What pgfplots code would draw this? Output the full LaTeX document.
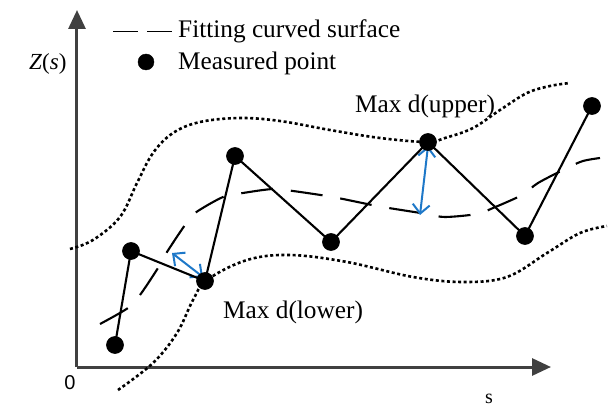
\documentclass[border=0pt]{standalone}
\usepackage{fontspec}
\setmainfont{Liberation Serif}
\newfontfamily\sansf{Liberation Sans}
\usepackage{pgfplots}
\pgfplotsset{compat=1.18}
\usetikzlibrary{arrows.meta}
\definecolor{axgray}{RGB}{64,64,64}
\definecolor{arrblue}{RGB}{30,120,200}
\begin{document}
\begin{tikzpicture}
\begin{axis}[
  scale only axis, width=474pt, height=357pt,
  xmin=0, xmax=474, ymin=0, ymax=357,
  axis lines*=left,
  axis line style={line width=3pt, draw=axgray, -{Triangle[length=19pt,width=17pt]}},
  xtick=\empty, ytick=\empty,
  clip=false,
]
\coordinate (BL) at (axis cs:-77,-43);
\coordinate (TR) at (axis cs:536,367);
% upper bound (dotted)
\addplot[black, line width=2.6pt, dash pattern=on 3pt off 2.6pt, smooth, tension=0.6] coordinates {
(-7,118) (16,127) (43,150) (60,184) (76,214) (96,234) (123,245) (163,249) (203,246) (253,237) (303,229) (350,225) (368,229) (396,239) (423,257) (450,274) (473,281) (493,284)};
% lower bound (dotted)
\addplot[black, line width=2.6pt, dash pattern=on 3pt off 2.6pt, smooth, tension=0.6] coordinates {
(41,-23) (76,4) (100,34) (116,67) (130,87) (170,107) (213,112) (270,105) (336,90) (386,85) (430,90) (470,114) (503,134) (530,141)};
% fitting curve (dashed)
\addplot[black, line width=2.1pt, dash pattern=on 32pt off 18pt, smooth, tension=0.5] coordinates {
(23,43) (51,59) (63,72) (81,99) (90,115) (108,142) (118,154) (146,170) (166,174) (196,178) (216,176) (250,171) (266,168) (300,161) (318,158) (350,153) (368,150) (400,153) (416,159) (445,172) (461,184) (490,199) (506,206) (523,209)};
% distance arrows
\addplot[arrblue, line width=2pt, {Straight Barb[length=9pt,width=17pt]}-{Straight Barb[length=9pt,width=17pt]}] coordinates {(126,90) (95,114)};
\addplot[arrblue, line width=2pt, {Straight Barb[length=9pt,width=17pt]}-{Straight Barb[length=9pt,width=17pt]}] coordinates {(351,221) (343,152)};
% measured points
\addplot[black, line width=2.1pt, mark=*, mark size=7.8pt] coordinates {
(38,22) (54,116) (128,86) (158,211) (254,125) (351,225) (448,131) (515,261)};
% legend
\addplot[black, line width=1.3pt] coordinates {(36,335.5) (61,335.5)};
\addplot[black, line width=1.3pt] coordinates {(70,335.5) (95,335.5)};
\addplot[only marks, black, mark=*, mark size=8pt] coordinates {(69,305)};
\node[anchor=base west, font=\fontsize{25.3}{30}\selectfont, inner sep=0pt] at (axis cs:101,329) {Fitting curved surface};
\node[anchor=base west, font=\fontsize{25.3}{30}\selectfont, inner sep=0pt] at (axis cs:101,297) {Measured point};
\node[anchor=base west, font=\fontsize{25.3}{30}\selectfont, inner sep=0pt] at (axis cs:278,254) {Max d(upper)};
\node[anchor=base west, font=\fontsize{25.3}{30}\selectfont, inner sep=0pt] at (axis cs:146,49) {Max d(lower)};
\node[anchor=base west, font=\fontsize{23}{27}\selectfont, inner sep=0pt] at (axis cs:-48,297) {\textit{Z}(\textit{s})};
\node[anchor=center, font=\sansf\fontsize{20}{24}\selectfont, inner sep=0pt] at (axis cs:-7,-16) {0};
\node[anchor=center, font=\fontsize{20}{24}\selectfont, inner sep=0pt] at (axis cs:412,-32) {s};
\end{axis}
\pgfresetboundingbox
\path (BL) rectangle (TR);
\end{tikzpicture}
\end{document}
